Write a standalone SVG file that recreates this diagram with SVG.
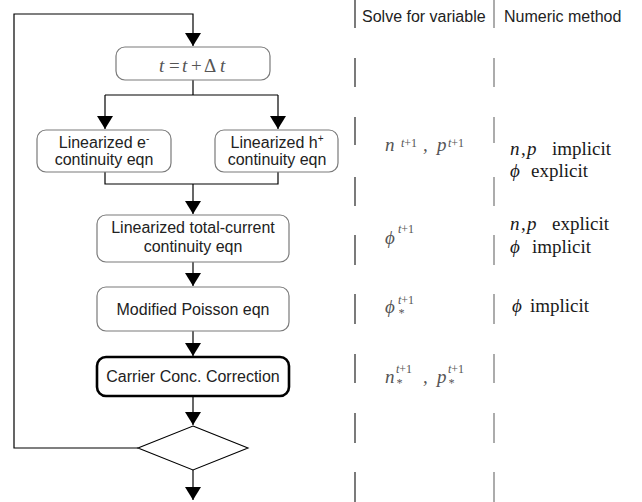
<svg xmlns="http://www.w3.org/2000/svg" width="642" height="502" viewBox="0 0 642 502">
  <style>
    .box{fill:#fff;stroke:#7a7a7a;stroke-width:1.2}
    .bold{fill:#fff;stroke:#000;stroke-width:2.6}
    .lbl{font-family:"Liberation Sans",Arial,sans-serif;font-size:16px;fill:#222;text-anchor:middle}
    .hdr{font-family:"Liberation Sans",Arial,sans-serif;font-size:16px;fill:#222}
    .sup{font-size:10px}
    .math{font-family:"Liberation Serif","Times New Roman",serif;font-style:italic;font-size:19px;fill:#555}
    .msm{font-family:"Liberation Serif","Times New Roman",serif;font-style:italic;font-size:12px;fill:#555}
    .up{font-style:normal}
    .meth{font-family:"Liberation Serif","Times New Roman",serif;font-size:19px;fill:#1a1a1a}
    .it{font-style:italic}
    .wire{stroke:#000;stroke-width:1.2;fill:none}
    .sepA{stroke:#5a5a5a;stroke-width:1.6}
    .sepB{stroke:#808080;stroke-width:1.3}
  </style>
  <defs>
    <marker id="arrow" viewBox="0 0 13 16" refX="13" refY="8" markerWidth="13" markerHeight="16" markerUnits="userSpaceOnUse" orient="auto">
      <path d="M0,0 L13,8 L0,16 z" fill="#000"/>
    </marker>
  </defs>

  <!-- connectors -->
  <g id="connectors">
    <path class="wire" stroke="#333" d="M138,448 H14 V14 H193 V46" marker-end="url(#arrow)"/>
    <path class="wire" d="M193,80 V95 M105,95 H278"/>
    <path class="wire" d="M105,95 V129" marker-end="url(#arrow)"/>
    <path class="wire" d="M278,95 V129" marker-end="url(#arrow)"/>
    <path class="wire" d="M105,172 V184 H278 V172"/>
    <path class="wire" d="M193,184 V214" marker-end="url(#arrow)"/>
    <path class="wire" d="M193,262 V286" marker-end="url(#arrow)"/>
    <path class="wire" d="M193,331 V356" marker-end="url(#arrow)"/>
    <path class="wire" d="M193,396 V425" marker-end="url(#arrow)"/>
    <path class="wire" d="M193,470 V500" marker-end="url(#arrow)"/>
  </g>

  <!-- flowchart nodes -->
  <g id="time-step">
    <rect class="box" x="116" y="47" width="154" height="33" rx="9" ry="9"/>
    <text class="math" font-size="18" y="72"><tspan x="159">t</tspan><tspan x="169" class="up">=</tspan><tspan x="182">t</tspan><tspan x="191" class="up">+</tspan><tspan x="204" class="up">Δ</tspan><tspan x="220">t</tspan></text>
  </g>
  <g id="electron-eqn">
    <rect class="box" x="37" y="130" width="134" height="42" rx="9" ry="9"/>
    <text class="lbl" x="104" y="148">Linearized e<tspan class="sup" dy="-6">-</tspan></text>
    <text class="lbl" x="104" y="165">continuity eqn</text>
  </g>
  <g id="hole-eqn">
    <rect class="box" x="215" y="130" width="123" height="42" rx="9" ry="9"/>
    <text class="lbl" x="277" y="148">Linearized h<tspan class="sup" dy="-6">+</tspan></text>
    <text class="lbl" x="277" y="165">continuity eqn</text>
  </g>
  <g id="total-current-eqn">
    <rect class="box" x="97" y="215" width="192" height="47" rx="9" ry="9"/>
    <text class="lbl" x="193" y="233">Linearized total-current</text>
    <text class="lbl" x="193" y="252">continuity eqn</text>
  </g>
  <g id="poisson-eqn">
    <rect class="box" x="97" y="287" width="192" height="44" rx="9" ry="9"/>
    <text class="lbl" x="193" y="315">Modified Poisson eqn</text>
  </g>
  <g id="carrier-correction">
    <rect class="bold" x="97" y="357" width="192" height="39" rx="9" ry="9"/>
    <text class="lbl" x="193" y="382">Carrier Conc. Correction</text>
  </g>
  <g id="decision">
    <polygon points="193,426 248,448 193,470 138,448" fill="#fff" stroke="#000" stroke-width="1.1"/>
  </g>

  <!-- table columns -->
  <g id="column-separators">
    <path class="sepA" d="M355,0 V28 M355,58 V87 M355,117 V145 M355,177 V206 M355,235 V265 M355,294 V324 M355,354 V383 M355,413 V443 M355,472 V502"/>
    <path class="sepB" d="M494,0 V28 M494,58 V87 M494,117 V143 M494,177 V206 M494,235 V265 M494,294 V324 M494,354 V383 M494,413 V443 M494,472 V502"/>
  </g>
  <g id="headers">
    <text class="hdr" x="362" y="22">Solve for variable</text>
    <text class="hdr" x="504" y="22">Numeric method</text>
  </g>

  <g id="variables">
    <text class="math" x="385" y="151">n</text>
    <text class="msm" x="401" y="147">t<tspan class="up">+1</tspan></text>
    <text class="math" x="423" y="151" font-style="normal">,</text>
    <text class="math" x="437" y="151">p</text>
    <text class="msm" x="448" y="147">t<tspan class="up">+1</tspan></text>

    <text class="math" x="385" y="244">ϕ</text>
    <text class="msm" x="398" y="233">t<tspan class="up">+1</tspan></text>

    <text class="math" x="385" y="313">ϕ</text>
    <text class="msm" x="398" y="304">t<tspan class="up">+1</tspan></text>
    <text class="msm" x="398" y="317">*</text>

    <text class="math" x="385" y="383">n</text>
    <text class="msm" x="396" y="373">t<tspan class="up">+1</tspan></text>
    <text class="msm" x="396" y="387">*</text>
    <text class="math" x="423" y="383" font-style="normal">,</text>
    <text class="math" x="437" y="383">p</text>
    <text class="msm" x="448" y="373">t<tspan class="up">+1</tspan></text>
    <text class="msm" x="448" y="387">*</text>
  </g>

  <g id="methods">
    <text class="meth" y="155"><tspan class="it" x="510">n</tspan><tspan x="521">,</tspan><tspan class="it" x="527">p</tspan><tspan x="552">implicit</tspan></text>
    <text class="meth" y="177"><tspan class="it" x="510">ϕ</tspan><tspan x="531">explicit</tspan></text>
    <text class="meth" y="230"><tspan class="it" x="510">n</tspan><tspan x="521">,</tspan><tspan class="it" x="527">p</tspan><tspan x="552">explicit</tspan></text>
    <text class="meth" y="253"><tspan class="it" x="510">ϕ</tspan><tspan x="532">implicit</tspan></text>
    <text class="meth" y="312" fill="#555"><tspan class="it" x="512">ϕ</tspan><tspan x="530">implicit</tspan></text>
  </g>
</svg>
